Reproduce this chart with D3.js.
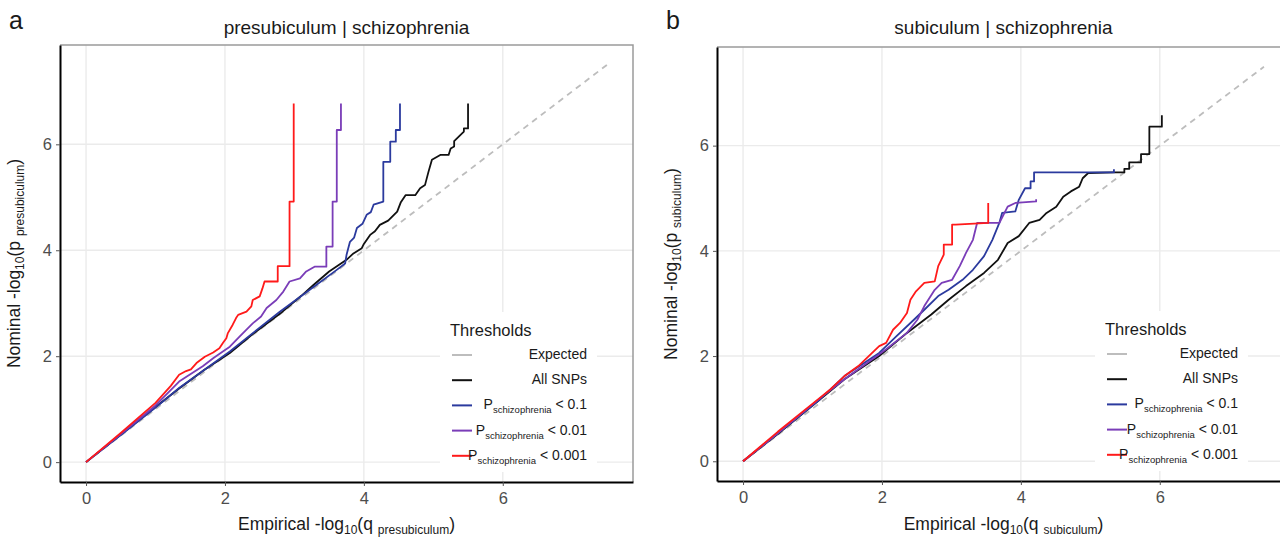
<!DOCTYPE html>
<html>
<head>
<meta charset="utf-8">
<script src="https://cdn.jsdelivr.net/npm/d3@7"></script>
<style>
  body { margin: 0; background: #fff; }
  svg { font-family: "Liberation Sans", Arial, sans-serif; }
</style>
</head>
<body>
<script>
// canvas
let W = 1280, H = 538;

// axis ticks (both axes, both panels)
let ticks = [0, 2, 4, 6];
let domain = [-0.375, 7.875];
let expectedMax = 7.5;

// legend
let legendTitle = "Thresholds";
let seriesKeys = ["all", "p01", "p001", "p0001"];
let seriesColors = { all: "#111111", p01: "#2b3a9e", p001: "#7a3db8", p0001: "#ff1a1a" };

// panel a : presubiculum | schizophrenia  -> [empirical, nominal]
let preAll = [[0,0],[0.5,0.52],[1,1.04],[1.34,1.39],[1.7,1.74],[2.07,2.06],[2.4,2.42],[2.79,2.8],[3.1,3.14],
  [3.27,3.34],[3.5,3.6],[3.75,3.82],[3.85,3.94],[3.97,4.04],[4.0,4.12],[4.09,4.29],[4.16,4.36],[4.23,4.48],
  [4.35,4.56],[4.48,4.73],[4.53,4.9],[4.6,5.04],[4.74,5.04],[4.81,5.17],[4.88,5.23],[4.93,5.48],[4.98,5.71],
  [5.1,5.8],[5.22,5.8],[5.25,5.92],[5.3,5.96],[5.3,6.06],[5.37,6.15],[5.44,6.24],[5.44,6.3],[5.5,6.3],[5.5,6.77]];
let preP01 = [[0,0],[0.5,0.51],[1,1.03],[1.34,1.4],[2.07,2.09],[2.79,2.84],[3.27,3.3],[3.6,3.62],[3.73,3.75],[3.75,3.91],
  [3.8,4.16],[3.86,4.24],[3.9,4.42],[3.98,4.5],[4.04,4.67],[4.1,4.72],[4.14,4.86],[4.28,4.92],[4.28,5.67],[4.38,5.67],
  [4.38,6.05],[4.46,6.05],[4.46,6.27],[4.52,6.27],[4.52,6.77]];
let preP001 = [[0,0],[0.5,0.53],[1,1.07],[1.34,1.52],[1.49,1.65],[1.68,1.81],[1.83,1.96],[1.97,2.09],[2.07,2.18],
  [2.21,2.37],[2.31,2.5],[2.4,2.62],[2.52,2.75],[2.6,2.91],[2.74,3.06],[2.84,3.22],[2.93,3.41],[3.08,3.47],
  [3.17,3.6],[3.29,3.69],[3.46,3.69],[3.46,4.07],[3.55,4.07],[3.55,4.92],[3.61,4.92],[3.61,6.27],[3.67,6.27],[3.67,6.77]];
let preP0001 = [[0,0],[0.5,0.55],[1,1.12],[1.22,1.44],[1.34,1.65],[1.44,1.72],[1.51,1.75],[1.59,1.87],[1.71,1.99],
  [1.83,2.07],[1.92,2.15],[1.97,2.25],[2.02,2.34],[2.04,2.43],[2.11,2.59],[2.16,2.72],[2.19,2.78],[2.31,2.84],
  [2.38,2.94],[2.4,3.06],[2.5,3.13],[2.54,3.28],[2.57,3.41],[2.76,3.41],[2.76,3.7],[2.93,3.7],[2.93,4.92],
  [2.99,4.92],[2.99,6.77]];

// panel b : subiculum | schizophrenia
let subAll = [[0,0],[0.5,0.52],[1.11,1.18],[1.46,1.56],[1.96,2.0],[2.36,2.44],[2.71,2.79],[2.96,3.07],[3.21,3.33],
  [3.47,3.58],[3.67,3.83],[3.81,4.15],[3.97,4.28],[4.12,4.53],[4.27,4.59],[4.37,4.72],[4.51,4.84],[4.61,5.03],
  [4.72,5.13],[4.84,5.22],[4.89,5.38],[4.97,5.48],[5.34,5.49],[5.49,5.49],[5.49,5.56],[5.56,5.56],[5.56,5.68],
  [5.73,5.68],[5.73,5.84],[5.85,5.84],[5.85,6.36],[6.03,6.36],[6.03,6.58]];
let subP01 = [[0,0],[0.5,0.53],[1.11,1.18],[1.46,1.62],[1.96,2.06],[2.21,2.38],[2.46,2.69],[2.61,2.88],[2.81,3.14],
  [2.96,3.26],[3.16,3.45],[3.31,3.64],[3.47,3.9],[3.59,4.21],[3.69,4.53],[3.73,4.72],[3.92,4.75],[3.97,4.97],
  [4.06,5.19],[4.14,5.19],[4.14,5.32],[4.19,5.32],[4.19,5.49],[5.34,5.49],[5.34,5.55]];
let subP001 = [[0,0],[0.5,0.53],[1.11,1.2],[1.46,1.56],[2.06,2.13],[2.36,2.44],[2.51,2.69],[2.61,2.95],[2.76,3.26],
  [2.86,3.39],[3.01,3.45],[3.12,3.71],[3.21,3.96],[3.31,4.21],[3.37,4.53],[3.69,4.53],[3.81,4.84],[3.92,4.91],
  [4.22,4.94],[4.22,4.98]];
let subP0001 = [[0,0],[0.5,0.56],[1.11,1.21],[1.26,1.37],[1.46,1.62],[1.66,1.81],[1.81,2.0],[1.96,2.19],[2.06,2.25],
  [2.16,2.5],[2.26,2.63],[2.36,2.82],[2.41,3.07],[2.49,3.23],[2.61,3.39],[2.76,3.42],[2.81,3.71],[2.89,3.93],
  [2.89,4.12],[3.01,4.12],[3.01,4.5],[3.06,4.5],[3.53,4.53],[3.53,4.91]];

let panels = [
  { letter: "a", title: "presubiculum | schizophrenia", region: "presubiculum",
    left: 60, right: 633, top: 45, bottom: 482, legX: 440, legW: 157, legY: 312,
    data: { all: preAll, p01: preP01, p001: preP001, p0001: preP0001 } },
  { letter: "b", title: "subiculum | schizophrenia", region: "subiculum",
    left: 717, right: 1290, top: 47, bottom: 481, legX: 1095, legW: 153, legY: 311,
    data: { all: subAll, p01: subP01, p001: subP001, p0001: subP0001 } }
];

let svg = d3.select("body").append("svg").attr("width", W).attr("height", H);

// helper: text with subscript pieces  [[str, isSub], ...]
function richText(sel, parts, subSize) {
  parts.forEach(function(p, i) {
    let t = sel.append("tspan").text(p[0]);
    if (p[1]) { t.attr("font-size", subSize).attr("dy", 4); }
    else if (i > 0 && parts[i-1][1]) { t.attr("dy", -4); }
  });
}

panels.forEach(function(p) {
  let x = d3.scaleLinear().domain(domain).range([p.left, p.right]);
  let y = d3.scaleLinear().domain(domain).range([p.bottom, p.top]);
  let g = svg.append("g");

  // grid
  g.selectAll(".gx").data(ticks).enter().append("line")
    .attr("x1", d => x(d)).attr("x2", d => x(d))
    .attr("y1", p.top).attr("y2", p.bottom)
    .attr("stroke", "#ebebeb").attr("stroke-width", 1.4);
  g.selectAll(".gy").data(ticks).enter().append("line")
    .attr("y1", d => y(d)).attr("y2", d => y(d))
    .attr("x1", p.left).attr("x2", p.right)
    .attr("stroke", "#ebebeb").attr("stroke-width", 1.4);

  // top / right border
  g.append("path")
    .attr("d", "M" + p.left + "," + p.top + "H" + p.right + "V" + p.bottom)
    .attr("fill", "none").attr("stroke", "#9a9a9a").attr("stroke-width", 1.5);

  // expected line
  g.append("line")
    .attr("x1", x(0)).attr("y1", y(0)).attr("x2", x(expectedMax)).attr("y2", y(expectedMax))
    .attr("stroke", "#bdbdbd").attr("stroke-width", 1.8).attr("stroke-dasharray", "6,5");

  let line = d3.line().x(d => x(d[0])).y(d => y(d[1]));
  seriesKeys.forEach(function(k) {
    g.append("path").datum(p.data[k])
      .attr("d", line).attr("fill", "none")
      .attr("stroke", seriesColors[k]).attr("stroke-width", 1.8)
      .attr("stroke-linejoin", "round");
  });

  // axes
  let xAxis = d3.axisBottom(x).tickValues(ticks).tickSize(4).tickSizeOuter(0).tickPadding(6);
  let yAxis = d3.axisLeft(y).tickValues(ticks).tickSize(4).tickSizeOuter(0).tickPadding(4);
  let gx = g.append("g").attr("transform", "translate(0," + p.bottom + ")").call(xAxis);
  let gy = g.append("g").attr("transform", "translate(" + p.left + ",0)").call(yAxis);
  [gx, gy].forEach(function(a) {
    a.attr("font-size", null).attr("font-family", null);
    a.select(".domain").attr("stroke", "#000").attr("stroke-width", 2);
    a.selectAll(".tick line").attr("stroke", "#555");
    a.selectAll(".tick text").attr("fill", "#4d4d4d")
      .style("font-size", "16.5px").style("font-family", "Liberation Sans, Arial, sans-serif");
  });

  // titles
  let cx = (p.left + p.left + 573) / 2;
  svg.append("text").attr("x", cx).attr("y", 34)
    .attr("text-anchor", "middle").attr("font-size", 19).attr("fill", "#1a1a1a")
    .text(p.title);
  svg.append("text").attr("x", p.left - 51).attr("y", 29)
    .attr("font-size", 25).attr("fill", "#1a1a1a").text(p.letter);

  let xt = svg.append("text").attr("x", cx).attr("y", 530)
    .attr("text-anchor", "middle").attr("font-size", 17.5).attr("fill", "#1a1a1a");
  richText(xt, [["Empirical -log", false], ["10", true], ["(q ", false], [p.region, true], [")", false]], 12);

  let cy = (p.top + p.bottom) / 2;
  let yt = svg.append("text")
    .attr("transform", "translate(" + (p.left - 40) + "," + cy + ") rotate(-90)")
    .attr("text-anchor", "middle").attr("font-size", 17.5).attr("fill", "#1a1a1a");
  richText(yt, [["Nominal -log", false], ["10", true], ["(p ", false], [p.region, true], [")", false]], 12);

  // legend
  let lg = svg.append("g").attr("transform", "translate(" + p.legX + "," + p.legY + ")");
  lg.append("rect").attr("width", p.legW).attr("height", 160).attr("fill", "#fff");
  lg.append("text").attr("x", 10).attr("y", 24).attr("font-size", 16.5).attr("fill", "#1a1a1a").text(legendTitle);
  let rows = [
    { color: "#bdbdbd", parts: [["Expected", false]] },
    { color: seriesColors.all, parts: [["All SNPs", false]] },
    { color: seriesColors.p01, parts: [["P", false], ["schizophrenia", true], [" < 0.1", false]] },
    { color: seriesColors.p001, parts: [["P", false], ["schizophrenia", true], [" < 0.01", false]] },
    { color: seriesColors.p0001, parts: [["P", false], ["schizophrenia", true], [" < 0.001", false]] }
  ];
  rows.forEach(function(r, i) {
    let ry = 43 + i * 25.2;
    lg.append("line").attr("x1", 12).attr("x2", 32).attr("y1", ry).attr("y2", ry)
      .attr("stroke", r.color).attr("stroke-width", 2);
    let t = lg.append("text").attr("x", p.legW - 10).attr("y", ry + 4)
      .attr("text-anchor", "end").attr("font-size", 14).attr("fill", "#1a1a1a");
    richText(t, r.parts, 9.5);
  });
});
</script>
</body>
</html>
